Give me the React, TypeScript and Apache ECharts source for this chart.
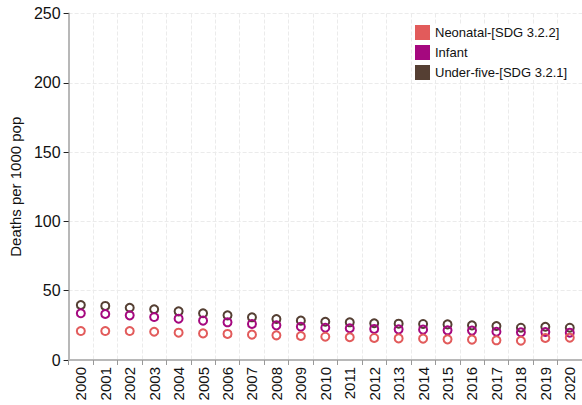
import React, { useEffect, useRef } from "react";
import * as echarts from "echarts";

const years = ["2000","2001","2002","2003","2004","2005","2006","2007","2008","2009","2010","2011","2012","2013","2014","2015","2016","2017","2018","2019","2020"];
const neonatal = [20.9,20.9,20.9,20.4,19.7,19.2,18.8,18.3,17.8,17.3,16.8,16.4,15.9,15.6,15.4,14.9,14.7,14.2,13.9,15.9,16.1];
const infant = [33.7,33.2,32.2,31.0,29.8,28.4,27.2,26.0,25.0,24.0,23.3,22.9,22.4,22.1,21.9,21.4,21.2,20.4,20.0,20.2,19.7];
const underFive = [39.7,39.0,37.7,36.6,35.1,33.7,32.2,30.8,29.6,28.4,27.6,27.2,26.5,26.2,26.0,25.7,25.0,24.5,23.3,24.0,23.3];
const yTicks = [0, 50, 100, 150, 200, 250];

const NEO = "#E25B5B";
const INF = "#A5087F";
const U5 = "#553F33";
const FONT = "Liberation Sans, Arial, sans-serif";

export default function App() {
  const ref = useRef<HTMLDivElement>(null);
  useEffect(() => {
    if (!ref.current) return;
    const chart = echarts.init(ref.current, null, { renderer: "svg" });
    const mk = (name: string, data: number[], c: string) => ({
      name,
      type: "scatter",
      data,
      symbol: "circle",
      symbolSize: 8,
      itemStyle: { color: "rgba(0,0,0,0)", borderColor: c, borderWidth: 2, opacity: 1 },
    });
    chart.setOption({
      animation: false,
      backgroundColor: "#fff",
      textStyle: { fontFamily: FONT },
      grid: { left: 67, right: -4, top: 13.5, bottom: 45 },
      legend: {
        orient: "vertical",
        left: 415,
        top: 25,
        itemWidth: 15,
        itemHeight: 15,
        itemGap: 5,
        backgroundColor: "#fff",
        padding: 0,
        textStyle: { fontSize: 13, color: "#111", fontFamily: FONT },
        data: [
          { name: "Neonatal-[SDG 3.2.2]", icon: "rect", itemStyle: { color: NEO, borderWidth: 0, opacity: 1 } },
          { name: "Infant", icon: "rect", itemStyle: { color: INF, borderWidth: 0, opacity: 1 } },
          { name: "Under-five-[SDG 3.2.1]", icon: "rect", itemStyle: { color: U5, borderWidth: 0, opacity: 1 } },
        ],
      },
      xAxis: {
        type: "category",
        data: years,
        boundaryGap: true,
        axisLine: { lineStyle: { color: "#b8b8b8", width: 2 } },
        axisTick: { show: true, length: 5, lineStyle: { color: "#999" } },
        axisLabel: { rotate: 90, fontSize: 15, color: "#111", margin: 7, fontFamily: FONT },
        splitLine: { show: true, lineStyle: { color: "#ebebeb", type: "dashed", width: 1 } },
      },
      yAxis: {
        type: "value",
        min: 0,
        max: 250,
        interval: 50,
        name: "Deaths per 1000 pop",
        nameLocation: "middle",
        nameGap: 41,
        nameTextStyle: { fontSize: 15, color: "#111", fontFamily: FONT },
        axisLine: { show: true, lineStyle: { color: "#b8b8b8", width: 2 } },
        axisTick: { show: true, length: 5, lineStyle: { color: "#222" } },
        axisLabel: {
          fontSize: 16,
          color: "#111",
          margin: 8,
          fontFamily: FONT,
          formatter: (v: number) => (yTicks.includes(v) ? String(v) : ""),
        },
        splitLine: { show: true, lineStyle: { color: "#ebebeb", type: "dashed", width: 1 } },
      },
      series: [
        mk("Under-five-[SDG 3.2.1]", underFive, U5),
        mk("Infant", infant, INF),
        mk("Neonatal-[SDG 3.2.2]", neonatal, NEO),
      ],
    });
    return () => chart.dispose();
  }, []);
  return <div ref={ref} style={{ position: "fixed", left: 0, top: 0, width: 582, height: 405 }} />;
}
